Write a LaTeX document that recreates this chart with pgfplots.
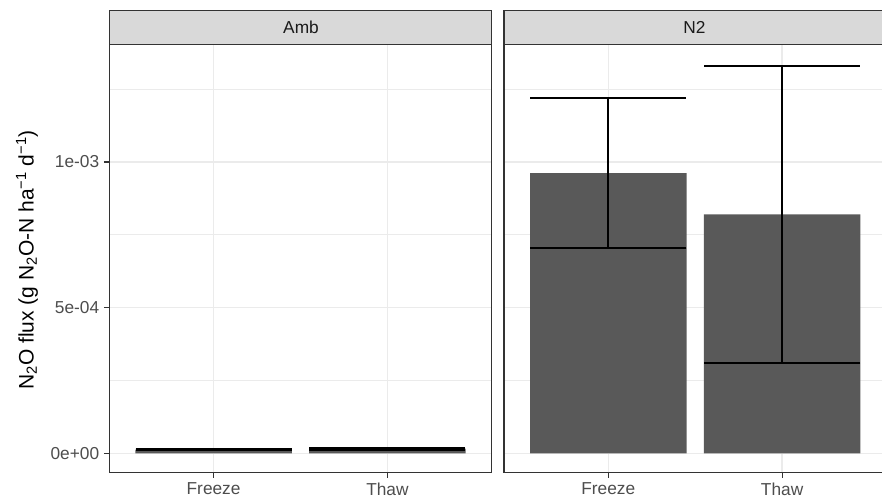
\documentclass[border=0pt]{standalone}
\usepackage{pgfplots}
\pgfplotsset{compat=1.18}
\usepackage{fontspec}
\setmainfont{Liberation Sans}
\definecolor{gridc}{HTML}{EBEBEB}
\definecolor{barc}{HTML}{595959}
\definecolor{stripc}{HTML}{D9D9D9}
\definecolor{bord}{HTML}{333333}
\definecolor{tickc}{HTML}{4D4D4D}
\definecolor{stript}{HTML}{1A1A1A}
\pgfplotsset{facet/.style={
  scale only axis, width=382.4pt, height=428pt,
  xmin=0.4, xmax=2.6, ymin=-0.0000652, ymax=0.001404,
  xtick={1,2}, xticklabels={Freeze,Thaw},
  ytick={0,0.0005,0.001}, minor ytick={0.00025,0.00075,0.00125},
  scaled y ticks=false,
  xmajorgrids, ymajorgrids, yminorgrids,
  major grid style={gridc, line width=1.6pt},
  minor grid style={gridc, line width=0.8pt},
  axis line style={bord, line width=1.1pt},
  tick align=outside, major tick length=5.5pt, minor tick length=0pt,
  tick style={bord, line width=1.1pt},
  xtick pos=left, ytick pos=left,
  ticklabel style={font=\fontsize{17.3}{19}\selectfont, text=tickc},
  xticklabel style={inner sep=0pt, anchor=north, yshift=-4.8pt},
  yticklabel style={inner sep=0pt, anchor=east, xshift=-4.4pt},
}}
\begin{document}
\begin{tikzpicture}
\useasboundingbox (0,0) rectangle (882pt,496pt);
\begin{axis}[facet, at={(109.3pt,23.7pt)}, anchor=south west,
  yticklabels={0e+00,5e-04,1e-03}]
\addplot[ybar, fill=barc, draw=none, bar width=0.9,
  error bars/.cd, y dir=both, y explicit, error mark=|,
  error bar style={black, line width=2pt},
  error mark options={black, line width=2pt, mark size=78pt}]
  coordinates {(1,0.000013) +- (0,0.000003) (2,0.000016) +- (0,0.0000035)};
\end{axis}
\begin{axis}[facet, at={(504pt,23.7pt)}, anchor=south west,
  yticklabels={}, ytick style={draw=none}]
\addplot[ybar, fill=barc, draw=none, bar width=0.9,
  error bars/.cd, y dir=both, y explicit, error mark=|,
  error bar style={black, line width=2pt},
  error mark options={black, line width=2pt, mark size=78pt}]
  coordinates {(1,0.000962) +- (0,0.000257) (2,0.00082) +- (0,0.000509)};
\end{axis}
\draw[bord, line width=1.1pt, fill=stripc] (109.3pt,451.7pt) rectangle (491.7pt,485.3pt);
\draw[bord, line width=1.1pt, fill=stripc] (504pt,451.7pt) rectangle (886.4pt,485.3pt);
\node[text=stript, font=\fontsize{17.3}{19}\selectfont] at (301pt,468.5pt) {Amb};
\node[text=stript, font=\fontsize{17.3}{19}\selectfont] at (694.5pt,468.5pt) {N2};
\node[rotate=90, font=\fontsize{21}{23}\selectfont] at (27pt,236pt) {N\textsubscript{2}O flux (g N\textsubscript{2}O-N ha\textsuperscript{−1} d\textsuperscript{−1})};
\end{tikzpicture}
\end{document}
